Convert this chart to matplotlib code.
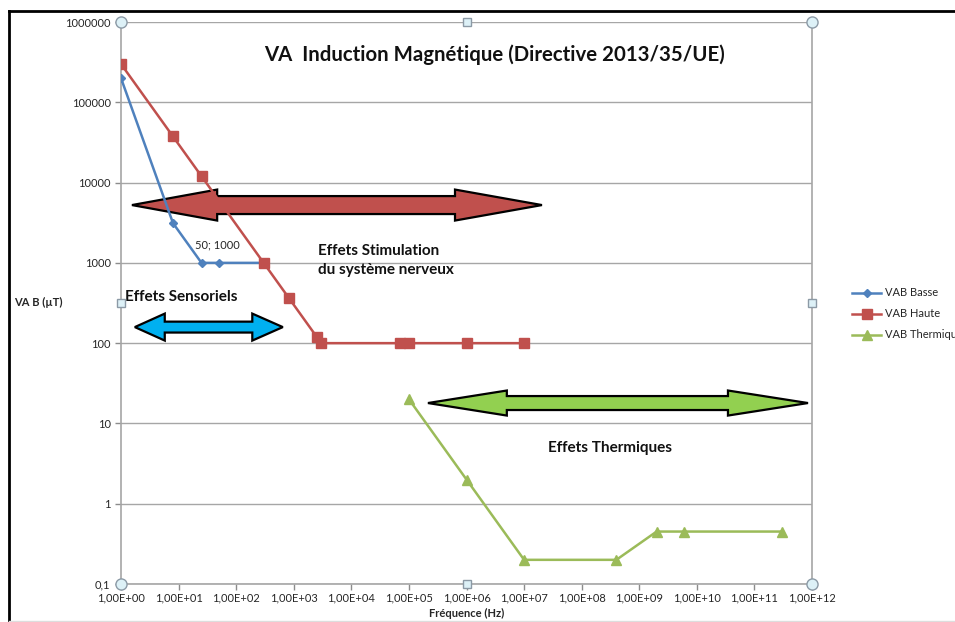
import numpy as np
import matplotlib
matplotlib.use("Agg")
import matplotlib.pyplot as plt
from matplotlib.patches import Polygon
from matplotlib.lines import Line2D
from matplotlib.ticker import FixedLocator, NullLocator

plt.rcParams['font.family'] = ['Lato', 'DejaVu Sans']

# VA basse (B)
f_basse = [1, 8, 25, 50, 300]
b_basse = [2e5, 3125, 1000, 1000, 1000]

# VA haute (B)
f_haute = [1, 8, 25, 300, 820, 2500, 3000, 7e4, 1e5, 1e6, 1e7]
b_haute = [3e5, 37500, 12000, 1000, 366, 120, 100, 100, 100, 100, 100]

# VA thermiques (B)
f_therm = [1e5, 1e6, 1e7, 4e8, 2e9, 6e9, 3e11]
b_therm = [20, 2, 0.2, 0.2, 0.45, 0.45, 0.45]

x_ticks = [10.0 ** k for k in range(0, 13)]
x_labels = ['1,00E+%02d' % k for k in range(0, 13)]
y_ticks = [0.1, 1, 10, 100, 1000, 10000, 100000, 1000000]
y_labels = ['0,1', '1', '10', '100', '1000', '10000', '100000', '1000000']

c_blue = '#4F81BD'
c_red = '#C0504D'
c_green = '#9BBB59'


def double_arrow(ax, lx0, lx1, ly, head_len0, head_len1, head_h, shaft_h, color):
    """Double headed block arrow, given in log10 units of the axes"""
    pts = [
        (lx0, ly),
        (lx0 + head_len0, ly + head_h),
        (lx0 + head_len0, ly + shaft_h),
        (lx1 - head_len1, ly + shaft_h),
        (lx1 - head_len1, ly + head_h),
        (lx1, ly),
        (lx1 - head_len1, ly - head_h),
        (lx1 - head_len1, ly - shaft_h),
        (lx0 + head_len0, ly - shaft_h),
        (lx0 + head_len0, ly - head_h),
    ]
    pts = [(10 ** px, 10 ** py) for px, py in pts]
    ax.add_patch(Polygon(pts, closed=True, facecolor=color, edgecolor='black',
                         linewidth=1.6, zorder=4, joinstyle='miter'))


fig = plt.figure(figsize=(9.55, 6.22), dpi=100)
ax = fig.add_axes([0.1267, 0.0611, 0.7236, 0.9035])

ax.plot(f_basse, b_basse, '-D', color=c_blue, markersize=4.5, linewidth=1.8, label='VAB Basse', zorder=5)
ax.plot(f_haute, b_haute, '-s', color=c_red, markersize=7, linewidth=1.8, label='VAB Haute', zorder=5)
ax.plot(f_therm, b_therm, '-^', color=c_green, markersize=7, linewidth=1.8, label='VAB Thermique', zorder=5)

ax.set_xscale('log')
ax.set_yscale('log')
ax.set_xlim(1, 1e12)
ax.set_ylim(0.1, 1e6)

ax.xaxis.set_major_locator(FixedLocator(x_ticks))
ax.xaxis.set_minor_locator(NullLocator())
ax.set_xticklabels(x_labels)
ax.yaxis.set_major_locator(FixedLocator(y_ticks))
ax.yaxis.set_minor_locator(NullLocator())
ax.set_yticklabels(y_labels)
ax.tick_params(axis='both', labelsize=8, colors='#8C8C8C', labelcolor='#262626',
               length=4, width=1, direction='out')
ax.tick_params(axis='x', pad=2)

ax.grid(True, axis='y', color='#A6A6A6', linewidth=1)
ax.set_axisbelow(True)
for side in ['left', 'bottom', 'right']:
    ax.spines[side].set_color('#A6A6A6')
    ax.spines[side].set_linewidth(1.2)
ax.spines['top'].set_visible(False)

# arrows
double_arrow(ax, 0.19, 7.31, 3.72, 1.48, 1.51, 0.193, 0.112, c_red)
double_arrow(ax, 0.24, 2.81, 2.20, 0.52, 0.53, 0.168, 0.068, '#00B0F0')
double_arrow(ax, 5.33, 11.93, 1.254, 1.37, 1.39, 0.156, 0.087, '#92D050')

# texts
ax.text(0.541, 0.941, 'VA  Induction Magnétique (Directive 2013/35/UE)', transform=ax.transAxes,
        ha='center', va='center', fontsize=14.7, fontweight='bold', color='#111111')
ax.text(0.285, 0.575, 'Effets Stimulation\ndu système nerveux', transform=ax.transAxes,
        ha='left', va='center', fontsize=11, fontweight='bold', color='#111111', linespacing=1.45, zorder=6)
ax.text(0.006, 0.511, 'Effets Sensoriels', transform=ax.transAxes,
        ha='left', va='center', fontsize=11, fontweight='bold', color='#111111', zorder=6)
ax.text(0.708, 0.242, 'Effets Thermiques', transform=ax.transAxes,
        ha='center', va='center', fontsize=11, fontweight='bold', color='#111111', zorder=6)
ax.text(0.140, 0.603, '50; 1000', transform=ax.transAxes,
        ha='center', va='center', fontsize=8, color='#262626', zorder=6)

fig.text(0.015, 0.513, 'VA B (µT)', ha='left', va='center', fontsize=8, fontweight='bold', color='#262626')
fig.text(0.489, 0.014, 'Fréquence (Hz)', ha='center', va='center', fontsize=8, fontweight='bold', color='#262626')

# excel selection handles
for hx, hy in [(0, 0), (1, 0), (0, 1), (1, 1)]:
    ax.plot(hx, hy, 'o', transform=ax.transAxes, clip_on=False, markersize=8,
            markerfacecolor='#DDF1F7', markeredgecolor='#8C9AA6', markeredgewidth=1, zorder=10)
for hx, hy in [(0.5, 0), (0.5, 1), (0, 0.5), (1, 0.5)]:
    ax.plot(hx, hy, 's', transform=ax.transAxes, clip_on=False, markersize=6,
            markerfacecolor='#DDF1F7', markeredgecolor='#8C9AA6', markeredgewidth=1, zorder=10)

leg = fig.legend(loc='upper left', bbox_to_anchor=(0.888, 0.545), frameon=False, fontsize=8,
                 handlelength=2.6, handletextpad=0.3, labelspacing=0.9, borderaxespad=0)
for txt in leg.get_texts():
    txt.set_color('#262626')

# outer border
fig.add_artist(Line2D([0.0094, 1.0], [0.982, 0.982], color='black', linewidth=2, transform=fig.transFigure))
fig.add_artist(Line2D([0.0094, 0.0094], [0.0, 0.982], color='black', linewidth=2, transform=fig.transFigure))
fig.add_artist(Line2D([0.0094, 1.0], [0.002, 0.002], color='#DDDDDD', linewidth=1, transform=fig.transFigure))

fig.savefig('out.png', dpi=100)
